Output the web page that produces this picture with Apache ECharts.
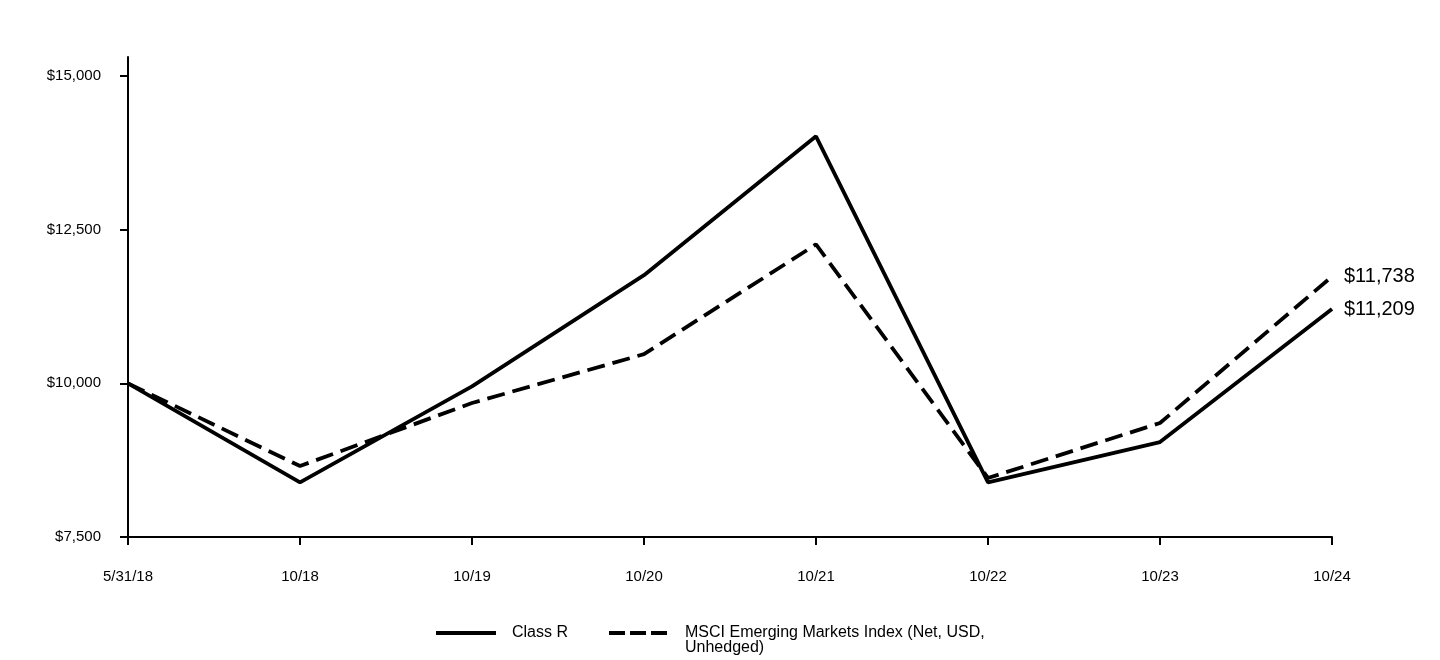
<!DOCTYPE html>
<html>
<head>
<meta charset="utf-8">
<script src="https://cdn.jsdelivr.net/npm/echarts@6/dist/echarts.min.js"></script>
<style>
html,body{margin:0;padding:0;background:#fff;}
#chart{width:1440px;height:660px;}
</style>
</head>
<body>
<div id="chart"></div>
<script>
const categories = ['5/31/18','10/18','10/19','10/20','10/21','10/22','10/23','10/24'];
const classR = [10000, 8390, 9950, 11760, 14020, 8390, 9045, 11209];
const msci = [10000, 8655, 9680, 10475, 12260, 8460, 9355, 11738];
const yTicks = [7500, 10000, 12500, 15000];
const seriesNames = ['Class R', 'MSCI Emerging Markets Index (Net, USD, Unhedged)'];

const chart = echarts.init(document.getElementById('chart'));
const fmt = v => '$' + v.toLocaleString('en-US');
const font = 'Liberation Sans, Arial, sans-serif';

chart.setOption({
  animation: false,
  grid: { left: 128, right: 108, top: 57, bottom: 123, containLabel: false },
  xAxis: {
    type: 'category',
    data: categories,
    boundaryGap: false,
    axisLine: { lineStyle: { color: '#000', width: 2 } },
    axisTick: { show: true, alignWithLabel: true, length: 8, lineStyle: { color: '#000', width: 2 } },
    axisLabel: { color: '#000', fontSize: 15, fontFamily: font, margin: 32 },
    splitLine: { show: false }
  },
  yAxis: {
    type: 'value',
    min: 7500,
    max: 15310,
    interval: 2500,
    axisLine: { show: true, lineStyle: { color: '#000', width: 2 } },
    axisTick: { show: true, length: 8, customValues: yTicks, lineStyle: { color: '#000', width: 2 } },
    axisLabel: { color: '#000', fontSize: 15, fontFamily: font, margin: 27, customValues: yTicks, formatter: fmt, padding: [3, 0, 0, 0] },
    splitLine: { show: false }
  },
  legend: {
    left: 429,
    top: 605,
    itemWidth: 60,
    itemHeight: 10,
    itemGap: 39,
    itemStyle: { opacity: 0 },
    lineStyle: { width: 4 },
    textStyle: { color: '#000', fontSize: 16, fontFamily: font, lineHeight: 15, padding: [0, 0, 0, 11] },
    formatter: function (name) {
      return name === seriesNames[1] ? ' \nMSCI Emerging Markets Index (Net, USD,\nUnhedged)' : name;
    },
    data: [
      { name: seriesNames[0] },
      { name: seriesNames[1], lineStyle: { width: 4, type: [16, 5] } }
    ]
  },
  series: [
    {
      name: seriesNames[0],
      type: 'line',
      data: classR,
      symbol: 'none',
      lineStyle: { color: '#000', width: 3.8, type: 'solid' },
      itemStyle: { color: '#000' },
      endLabel: { show: true, formatter: p => fmt(p.value), color: '#000', fontSize: 20, fontFamily: font, distance: 12 }
    },
    {
      name: seriesNames[1],
      type: 'line',
      data: msci,
      symbol: 'none',
      lineStyle: { color: '#000', width: 3.8, type: [18, 8] },
      itemStyle: { color: '#000' },
      endLabel: { show: true, formatter: p => fmt(p.value), color: '#000', fontSize: 20, fontFamily: font, distance: 12 }
    }
  ]
});
</script>
</body>
</html>
